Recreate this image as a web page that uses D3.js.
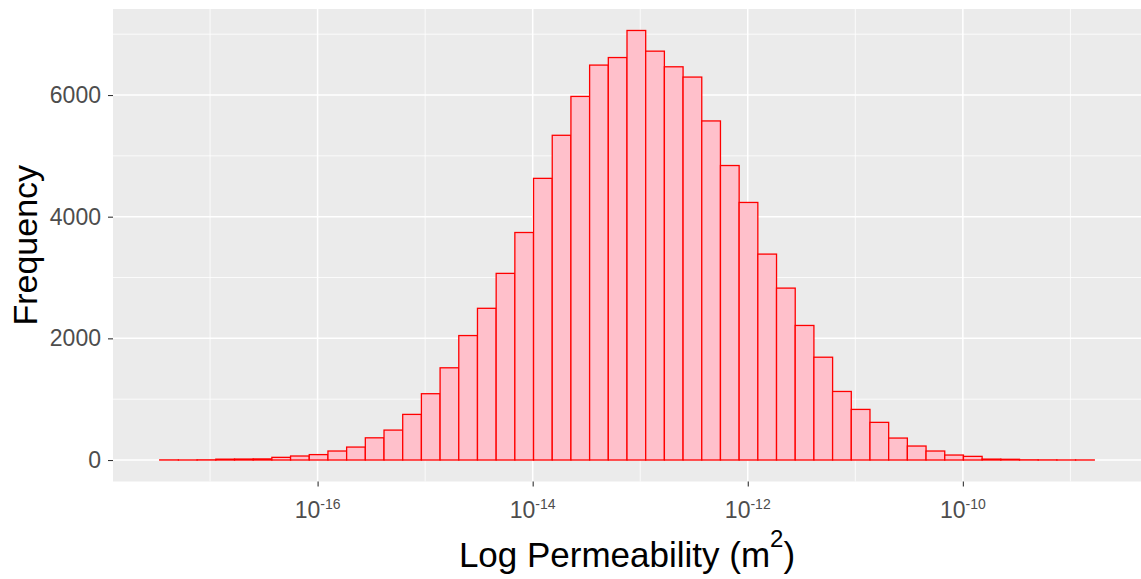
<!DOCTYPE html>
<html>
<head>
<meta charset="utf-8">
<script src="https://cdn.jsdelivr.net/npm/d3@7"></script>
<style>
  body { margin: 0; background: #fff; }
  text { font-family: "Liberation Sans", Arial, sans-serif; }
</style>
</head>
<body>
<div id="chart"></div>
<script>
var svgWidth = 1141;
var svgHeight = 579;

// histogram bins on log10 scale (50 bins)
var binStartExp = -17.468;
var binWidthExp = 0.1738;
var counts = [
    2, 1, 3, 14, 16, 18, 44, 66, 89, 148,
    213, 365, 492, 750, 1090, 1516, 2046, 2494, 3068, 3740,
    4630, 5338, 5977, 6492, 6616, 7061, 6721, 6464, 6295, 5574,
    4841, 4234, 3385, 2826, 2212, 1690, 1127, 832, 619, 361,
    230, 148, 82, 60, 15, 12, 3, 2, 1, 1
];

var xMajorExp = [-16, -14, -12, -10];
var xMinorExp = [-17, -15, -13, -11, -9];
var yMajor = [0, 2000, 4000, 6000];
var yMinor = [1000, 3000, 5000, 7000];

var margin = { top: 9, right: 0, bottom: 97.5, left: 113 };
var width = svgWidth - margin.left - margin.right;
var height = svgHeight - margin.top - margin.bottom;

var bins = counts.map(function (c, i) {
    return {
        x0: Math.pow(10, binStartExp + i * binWidthExp),
        x1: Math.pow(10, binStartExp + (i + 1) * binWidthExp),
        count: c
    };
});

var svg = d3.select("#chart")
    .append("svg")
    .attr("width", svgWidth)
    .attr("height", svgHeight);

var chartGroup = svg.append("g")
    .attr("transform", `translate(${margin.left}, ${margin.top})`);

// ggplot-like 5% expansion
var lo = binStartExp, hi = binStartExp + counts.length * binWidthExp;
var padX = (hi - lo) * 0.05;
var xScale = d3.scaleLog()
    .domain([Math.pow(10, lo - padX), Math.pow(10, hi + padX)])
    .range([0, width]);

var yMax = d3.max(counts);
var yScale = d3.scaleLinear()
    .domain([-0.05 * yMax, 1.05 * yMax])
    .range([height, 0]);

chartGroup.append("rect")
    .attr("width", width)
    .attr("height", height)
    .attr("fill", "#EBEBEB");

// grid
chartGroup.selectAll(".xminor")
    .data(xMinorExp)
    .enter()
    .append("line")
    .attr("x1", d => xScale(Math.pow(10, d)))
    .attr("x2", d => xScale(Math.pow(10, d)))
    .attr("y1", 0)
    .attr("y2", height)
    .attr("stroke", "#fff")
    .attr("stroke-width", 0.8);

chartGroup.selectAll(".yminor")
    .data(yMinor)
    .enter()
    .append("line")
    .attr("x1", 0)
    .attr("x2", width)
    .attr("y1", d => yScale(d))
    .attr("y2", d => yScale(d))
    .attr("stroke", "#fff")
    .attr("stroke-width", 0.8);

chartGroup.selectAll(".xmajor")
    .data(xMajorExp)
    .enter()
    .append("line")
    .attr("x1", d => xScale(Math.pow(10, d)))
    .attr("x2", d => xScale(Math.pow(10, d)))
    .attr("y1", 0)
    .attr("y2", height)
    .attr("stroke", "#fff")
    .attr("stroke-width", 1.5);

chartGroup.selectAll(".ymajor")
    .data(yMajor)
    .enter()
    .append("line")
    .attr("x1", 0)
    .attr("x2", width)
    .attr("y1", d => yScale(d))
    .attr("y2", d => yScale(d))
    .attr("stroke", "#fff")
    .attr("stroke-width", 1.5);

// bars
chartGroup.selectAll(".bar")
    .data(bins)
    .enter()
    .append("rect")
    .attr("x", d => xScale(d.x0))
    .attr("width", d => xScale(d.x1) - xScale(d.x0))
    .attr("y", d => yScale(d.count))
    .attr("height", d => yScale(0) - yScale(d.count))
    .attr("fill", "pink")
    .attr("stroke", "red")
    .attr("stroke-width", 1.3);

// axes
var bottomAxis = d3.axisBottom(xScale)
    .tickValues(xMajorExp.map(d => Math.pow(10, d)))
    .tickSize(5)
    .tickFormat("");
var leftAxis = d3.axisLeft(yScale)
    .tickValues(yMajor)
    .tickSize(5)
    .tickPadding(7)
    .tickFormat(d3.format("d"));

var xAxisG = chartGroup.append("g")
    .attr("transform", `translate(0, ${height})`)
    .call(bottomAxis);
xAxisG.select(".domain").remove();
xAxisG.selectAll(".tick line").attr("stroke", "#333").attr("stroke-width", 1.1);

var xLabels = chartGroup.selectAll(".xlab")
    .data(xMajorExp)
    .enter()
    .append("text")
    .attr("x", d => xScale(Math.pow(10, d)))
    .attr("y", height + 36)
    .attr("text-anchor", "middle")
    .attr("fill", "#4D4D4D")
    .attr("font-size", "23px");
xLabels.append("tspan").text("10");
xLabels.append("tspan")
    .attr("dy", -9)
    .attr("font-size", "14px")
    .text(d => d);

var yAxisG = chartGroup.append("g").call(leftAxis);
yAxisG.select(".domain").remove();
yAxisG.selectAll(".tick line").attr("stroke", "#333").attr("stroke-width", 1.1);
yAxisG.selectAll(".tick text")
    .attr("fill", "#4D4D4D")
    .attr("font-size", "23px")
    .attr("font-family", "Liberation Sans, Arial, sans-serif");

// titles
var xTitle = svg.append("text")
    .attr("x", margin.left + width / 2)
    .attr("y", 566.5)
    .attr("text-anchor", "middle")
    .attr("font-size", "35px")
    .attr("fill", "#000");
xTitle.append("tspan").text("Log Permeability (m");
xTitle.append("tspan").attr("dy", -20).attr("font-size", "24px").text("2");
xTitle.append("tspan").attr("dy", 20).text(")");

svg.append("text")
    .attr("transform", `translate(36.5, ${margin.top + height / 2}) rotate(-90)`)
    .attr("text-anchor", "middle")
    .attr("font-size", "34px")
    .attr("fill", "#000")
    .text("Frequency");
</script>
</body>
</html>
